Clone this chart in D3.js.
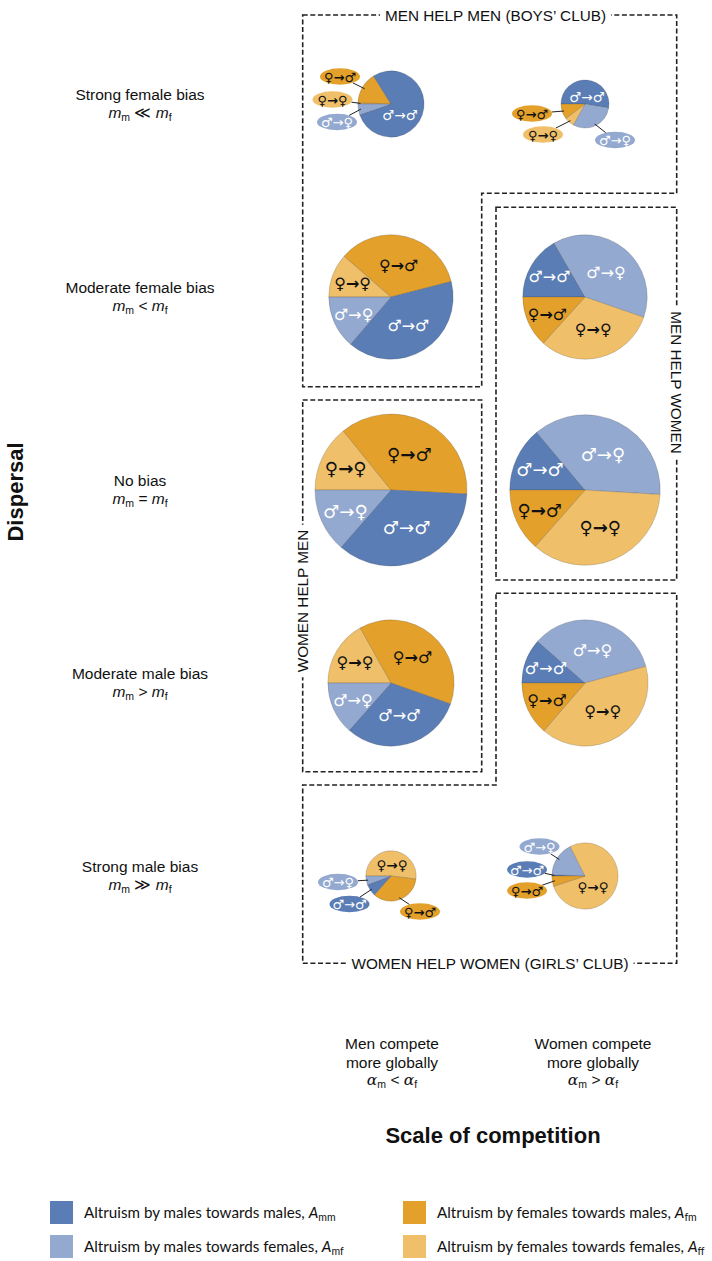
<!DOCTYPE html>
<html><head><meta charset="utf-8">
<script src="https://cdn.jsdelivr.net/npm/d3@7"></script>
<style>body{margin:0;background:#fff} svg{display:block}</style>
</head><body>
<svg id="chart" width="712" height="1261"></svg>
<script>
// ---------- DATA ----------
const dispersalRows = ["Strong female bias","Moderate female bias","No bias","Moderate male bias","Strong male bias"];
const dispersalRelation = ["≪","<","=",">","≫"];
const competitionCols = [["Men compete","more globally"],["Women compete","more globally"]];
const competitionRelation = ["<",">"];
const seriesKeys = ["mm","mf","fm","ff"];
const seriesSymbols = {mm:["♂","♂"], mf:["♂","♀"], fm:["♀","♂"], ff:["♀","♀"]};
const legendText = {
  mm:"Altruism by males towards males, ",
  fm:"Altruism by females towards males, ",
  mf:"Altruism by males towards females, ",
  ff:"Altruism by females towards females, "
};
// share of altruism (%) per pie, [row][column]
const A_mm = [[78.6,52.6],[40.3,16.7],[35.6,13.9],[31.1,11.5],[7.8,0.6]];
const A_mf = [[5.3,30.5],[13.7,38.6],[13.6,37.1],[13.5,34.3],[5.7,17.0]];
const A_fm = [[15.5,10.3],[34.6,13.3],[36.7,13.5],[38.5,13.7],[34.5,5.0]];
const A_ff = [[0.6,6.6],[11.4,31.4],[14.2,35.6],[16.9,40.6],[52.0,77.4]];
// relative total altruism (pie area), [row][column]
const totalAltruism = [[0.19,0.10],[0.67,0.67],[1.0,0.98],[0.69,0.69],[0.11,0.19]];
const boxLabels = ["MEN HELP MEN (BOYS’ CLUB)","MEN HELP WOMEN","WOMEN HELP MEN","WOMEN HELP WOMEN (GIRLS’ CLUB)"];

// ---------- LAYOUT ----------
const values = {mm:A_mm, mf:A_mf, fm:A_fm, ff:A_ff};
const svg = d3.select("#chart");
const FONT = "'Liberation Sans', Arial, sans-serif";
const SYM = "'DejaVu Sans', sans-serif";
const y = d3.scalePoint().domain(d3.range(dispersalRows.length)).range([104, 876]);
const x = d3.scalePoint().domain(d3.range(competitionCols.length)).range([391, 585]);
const rScale = d3.scaleSqrt().domain([0,1]).range([0,76]);
const color = d3.scaleOrdinal().domain(seriesKeys).range(["#5a7db5","#94a9d0","#e3a02a","#efbf6a"]);
const textColor = k => k[0]==="m" ? "#ffffff" : "#111111";
const sliceOrder = [["ff","fm","mm","mf"],["mm","mf","ff","fm"]];

// callout layout for the small pies (offsets from pie centre)
const callouts = {
  "0-0": {main:"mm", off:[9,11], items:{fm:[-51,-27.5], ff:[-58.5,-4.5], mf:[-54,18]}},
  "0-1": {main:"mm", off:[2,-7], items:{fm:[-53,9.5], ff:[-42,30.5], mf:[30,36]}},
  "4-0": {main:"ff", off:[1,-11], items:{mf:[-53,6], mm:[-41.5,28], fm:[29,35.5]}},
  "4-1": {main:"ff", off:[8,11], items:{mf:[-45.5,-29.5], mm:[-58,-6.5], fm:[-58,14.5]}}
};

function symLabel(g, k, fs, cx, cy){
  const t = g.append("text").attr("x",cx).attr("y",cy)
    .attr("text-anchor","middle").attr("dominant-baseline","central")
    .attr("font-family",SYM).attr("font-size",fs).attr("fill",textColor(k));
  t.append("tspan").text(seriesSymbols[k][0]);
  t.append("tspan").attr("font-weight", k[0]==="f" ? "bold" : "normal").text("→");
  t.append("tspan").text(seriesSymbols[k][1]);
  return t;
}

// ---------- DASHED BOXES ----------
const boxes = svg.append("g").attr("fill","none").attr("stroke","#222")
  .attr("stroke-width",1.6).attr("stroke-dasharray","5 2.6");
boxes.append("path").attr("d","M302.7,15H676.7V193.3H481.7V386.7H302.7Z");
boxes.append("path").attr("d","M496,207.3H676.7V580H496Z");
boxes.append("path").attr("d","M302.7,400H481.7V771.7H302.7Z");
boxes.append("path").attr("d","M496,593.3H676.7V963.3H302.7V785H496Z");

const boxLabelPos = [[495.5,15,0],[676.7,382.5,90],[302.7,601,-90],[490,963.3,0]];
boxLabels.forEach((s,i)=>{
  const [bx,by,rot] = boxLabelPos[i];
  const g = svg.append("g").attr("transform",`translate(${bx},${by}) rotate(${rot})`);
  const bg = g.append("rect").attr("fill","#fff");
  const t = g.append("text").attr("text-anchor","middle").attr("dominant-baseline","central")
    .attr("font-family",FONT).attr("font-size",15.3).attr("fill","#111").text(s);
  const bb = t.node().getBBox();
  bg.attr("x",bb.x-5).attr("y",-4).attr("width",bb.width+10).attr("height",8);
});

// ---------- PIES ----------
const pieGen = d3.pie().sort(null).value(d=>d.value)
  .startAngle(-Math.PI/2).endAngle(1.5*Math.PI);

dispersalRows.forEach((row, ri)=>{
  competitionCols.forEach((col, ci)=>{
    const cx = x(ci), cy = y(ri), r = rScale(totalAltruism[ri][ci]);
    const data = sliceOrder[ci].map(k=>({key:k, value:values[k][ri][ci]}));
    const arcs = pieGen(data);
    const g = svg.append("g").attr("transform",`translate(${cx},${cy})`);
    const arc = d3.arc().innerRadius(0).outerRadius(r);
    g.selectAll("path.slice").data(arcs).join("path").attr("class","slice")
      .attr("d",arc).attr("fill",d=>color(d.data.key))
      .attr("stroke","rgba(60,60,60,0.35)").attr("stroke-width",0.6);
    const co = callouts[ri+"-"+ci];
    if(!co){
      const fs = 6 + r*0.16;
      arcs.forEach(a=>{
        const span = a.endAngle - a.startAngle;
        const lr = span > 1.75 ? 0.53*r : 0.66*r;
        const mid = (a.startAngle + a.endAngle)/2;
        symLabel(g, a.data.key, fs, lr*Math.sin(mid), -lr*Math.cos(mid));
      });
    } else {
      symLabel(g, co.main, 13.5, co.off[0], co.off[1]);
      arcs.forEach(a=>{
        const k = a.data.key;
        if(!co.items[k]) return;
        const [ex,ey] = co.items[k];
        const mid = (a.startAngle + a.endAngle)/2;
        const px = 0.92*r*Math.sin(mid), py = -0.92*r*Math.cos(mid);
        const rx = 20, ry = 8.2;
        const dx = px-ex, dy = py-ey;
        const t = 1/Math.sqrt((dx/rx)**2 + (dy/ry)**2);
        g.append("line").attr("x1",ex+t*dx).attr("y1",ey+t*dy).attr("x2",px).attr("y2",py)
          .attr("stroke","#222").attr("stroke-width",1);
        g.append("ellipse").attr("cx",ex).attr("cy",ey).attr("rx",rx).attr("ry",ry)
          .attr("fill",color(k));
        symLabel(g, k, 13, ex, ey);
      });
    }
  });
});

// ---------- ROW LABELS ----------
function relLine(sel, base, rel, subA, subB, italicFont){
  sel.append("tspan").attr("font-style","italic").attr("font-family",italicFont||FONT).text(base);
  sel.append("tspan").attr("font-size",10.5).attr("dy",3).text(subA);
  sel.append("tspan").attr("dy",-3).text(" "+rel+" ");
  sel.append("tspan").attr("font-style","italic").attr("font-family",italicFont||FONT).text(base);
  sel.append("tspan").attr("font-size",10.5).attr("dy",3).text(subB);
}
dispersalRows.forEach((s,i)=>{
  svg.append("text").attr("x",140).attr("y",y(i)-4).attr("text-anchor","middle")
    .attr("font-family",FONT).attr("font-size",15.5).attr("fill","#111").text(s);
  const t = svg.append("text").attr("x",140).attr("y",y(i)+14).attr("text-anchor","middle")
    .attr("font-family",FONT).attr("font-size",15.5).attr("fill","#111");
  relLine(t,"m",dispersalRelation[i],"m","f");
});
svg.append("text").attr("transform","translate(23,492) rotate(-90)").attr("text-anchor","middle")
  .attr("font-family",FONT).attr("font-weight","bold").attr("font-size",22).attr("fill","#111")
  .text("Dispersal");

// ---------- COLUMN LABELS ----------
const colLabelX = [392, 593];
competitionCols.forEach((lines,i)=>{
  lines.forEach((s,j)=>{
    svg.append("text").attr("x",colLabelX[i]).attr("y",1049+j*19).attr("text-anchor","middle")
      .attr("font-family",FONT).attr("font-size",15.5).attr("fill","#111").text(s);
  });
  const t = svg.append("text").attr("x",colLabelX[i]).attr("y",1085).attr("text-anchor","middle")
    .attr("font-family",FONT).attr("font-size",15.5).attr("fill","#111");
  relLine(t,"α",competitionRelation[i],"m","f","'DejaVu Serif', serif");
});
svg.append("text").attr("x",493).attr("y",1143).attr("text-anchor","middle")
  .attr("font-family",FONT).attr("font-weight","bold").attr("font-size",22).attr("fill","#111")
  .text("Scale of competition");

// ---------- LEGEND ----------
const legendOrder = ["mm","fm","mf","ff"];
const legX = [50, 403], legY = [1201, 1235];
legendOrder.forEach((k,i)=>{
  const lx = legX[i%2], ly = legY[Math.floor(i/2)];
  svg.append("rect").attr("x",lx).attr("y",ly).attr("width",23).attr("height",23).attr("fill",color(k));
  const t = svg.append("text").attr("x",lx+34).attr("y",ly+17)
    .attr("font-family","Lato, 'Open Sans', sans-serif").attr("font-size",15.2).attr("fill","#111");
  t.append("tspan").text(legendText[k]);
  t.append("tspan").attr("font-style","italic").text("A");
  t.append("tspan").attr("font-size",10.5).attr("dy",3).text(k);
});
</script>
</body></html>
